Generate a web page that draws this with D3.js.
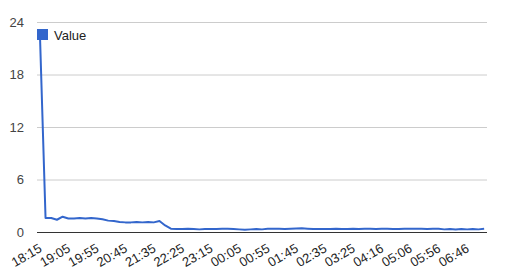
<!DOCTYPE html>
<html><head><meta charset="utf-8">
<script src="https://cdn.jsdelivr.net/npm/d3@7"></script>
<style>body{margin:0;background:#fff}svg{display:block}text{font-family:Arial,"Liberation Sans",sans-serif}</style>
</head><body><svg id="c" width="509" height="275"></svg>
<script>
const categories = ["18:15","18:25","18:35","18:45","18:55","19:05","19:15","19:25","19:35","19:45",
"19:55","20:05","20:15","20:25","20:35","20:45","20:55","21:05","21:15","21:25",
"21:35","21:45","21:55","22:05","22:15","22:25","22:35","22:45","22:55","23:05",
"23:15","23:25","23:35","23:45","23:55","00:05","00:15","00:25","00:35","00:45",
"00:55","01:05","01:15","01:25","01:35","01:45","01:55","02:05","02:15","02:25",
"02:35","02:45","02:55","03:05","03:15","03:25","03:35","03:45","03:56","04:06",
"04:16","04:26","04:36","04:46","04:56","05:06","05:16","05:26","05:36","05:46",
"05:56","06:06","06:16","06:26","06:36","06:46","06:56","07:06","07:16"];
const values = [22.9,1.6,1.6,1.4,1.75,1.55,1.55,1.6,1.55,1.6,
1.55,1.45,1.3,1.25,1.15,1.1,1.1,1.15,1.1,1.15,
1.1,1.25,0.75,0.38,0.35,0.33,0.36,0.34,0.3,0.33,
0.35,0.34,0.37,0.36,0.33,0.3,0.27,0.3,0.33,0.3,
0.36,0.37,0.36,0.34,0.38,0.4,0.42,0.38,0.35,0.33,
0.33,0.35,0.37,0.34,0.33,0.36,0.35,0.38,0.36,0.35,
0.37,0.38,0.35,0.33,0.36,0.37,0.38,0.36,0.35,0.38,
0.36,0.3,0.33,0.28,0.35,0.3,0.33,0.3,0.36];
const yTicks = [0,6,12,18,24];
const seriesName = "Value";
const labelEvery = 5;

const svg = d3.select("#c");
const L = 37, R = 487, T = 22, B = 232;
const x = d3.scaleBand().domain(categories).range([L, R]);
const y = d3.scaleLinear().domain([0,24]).range([B, T]);
const color = "#3366cc";

// gridlines
svg.append("g").selectAll("line").data(yTicks.filter(d=>d!==0)).join("line")
  .attr("x1", L).attr("x2", R).attr("y1", d=>y(d)+0.5).attr("y2", d=>y(d)+0.5)
  .attr("stroke", "#cccccc").attr("stroke-width", 1);

// y labels
const yAxis = d3.axisLeft(y).tickValues(yTicks).tickSize(0).tickPadding(0);
const gy = svg.append("g").attr("transform", `translate(${L-13},0)`).call(yAxis);
gy.select(".domain").remove();
gy.selectAll("text").attr("font-size", 13).attr("fill", "#444").attr("font-family","Arial,'Liberation Sans',sans-serif");

// line
const line = d3.line().x((d,i)=>x(categories[i]) + x.bandwidth()/2).y(d=>y(d));
svg.append("path").datum(values).attr("d", line)
  .attr("fill","none").attr("stroke",color).attr("stroke-width",2).attr("stroke-linejoin","round");

// baseline
svg.append("line").attr("x1",L).attr("x2",R).attr("y1",y(0)+0.5).attr("y2",y(0)+0.5)
  .attr("stroke","#333").attr("stroke-width",1);

// x labels
const xAxis = d3.axisBottom(x).tickValues(categories.filter((d,i)=>i%labelEvery===0)).tickSize(0).tickPadding(0);
const gx = svg.append("g").attr("transform", `translate(0,${B})`).call(xAxis);
gx.select(".domain").remove();
gx.selectAll(".tick text")
  .attr("font-size", 13).attr("fill","#222").attr("font-family","Arial,'Liberation Sans',sans-serif")
  .attr("text-anchor","end").attr("dy",null).attr("y",null)
  .attr("transform","translate(3,19) rotate(-30)");

// legend
svg.append("rect").attr("x",37).attr("y",29).attr("width",11).attr("height",11).attr("fill",color);
svg.append("text").attr("x",54).attr("y",39.5).attr("font-size",13).attr("fill","#222").text(seriesName);
</script></body></html>
